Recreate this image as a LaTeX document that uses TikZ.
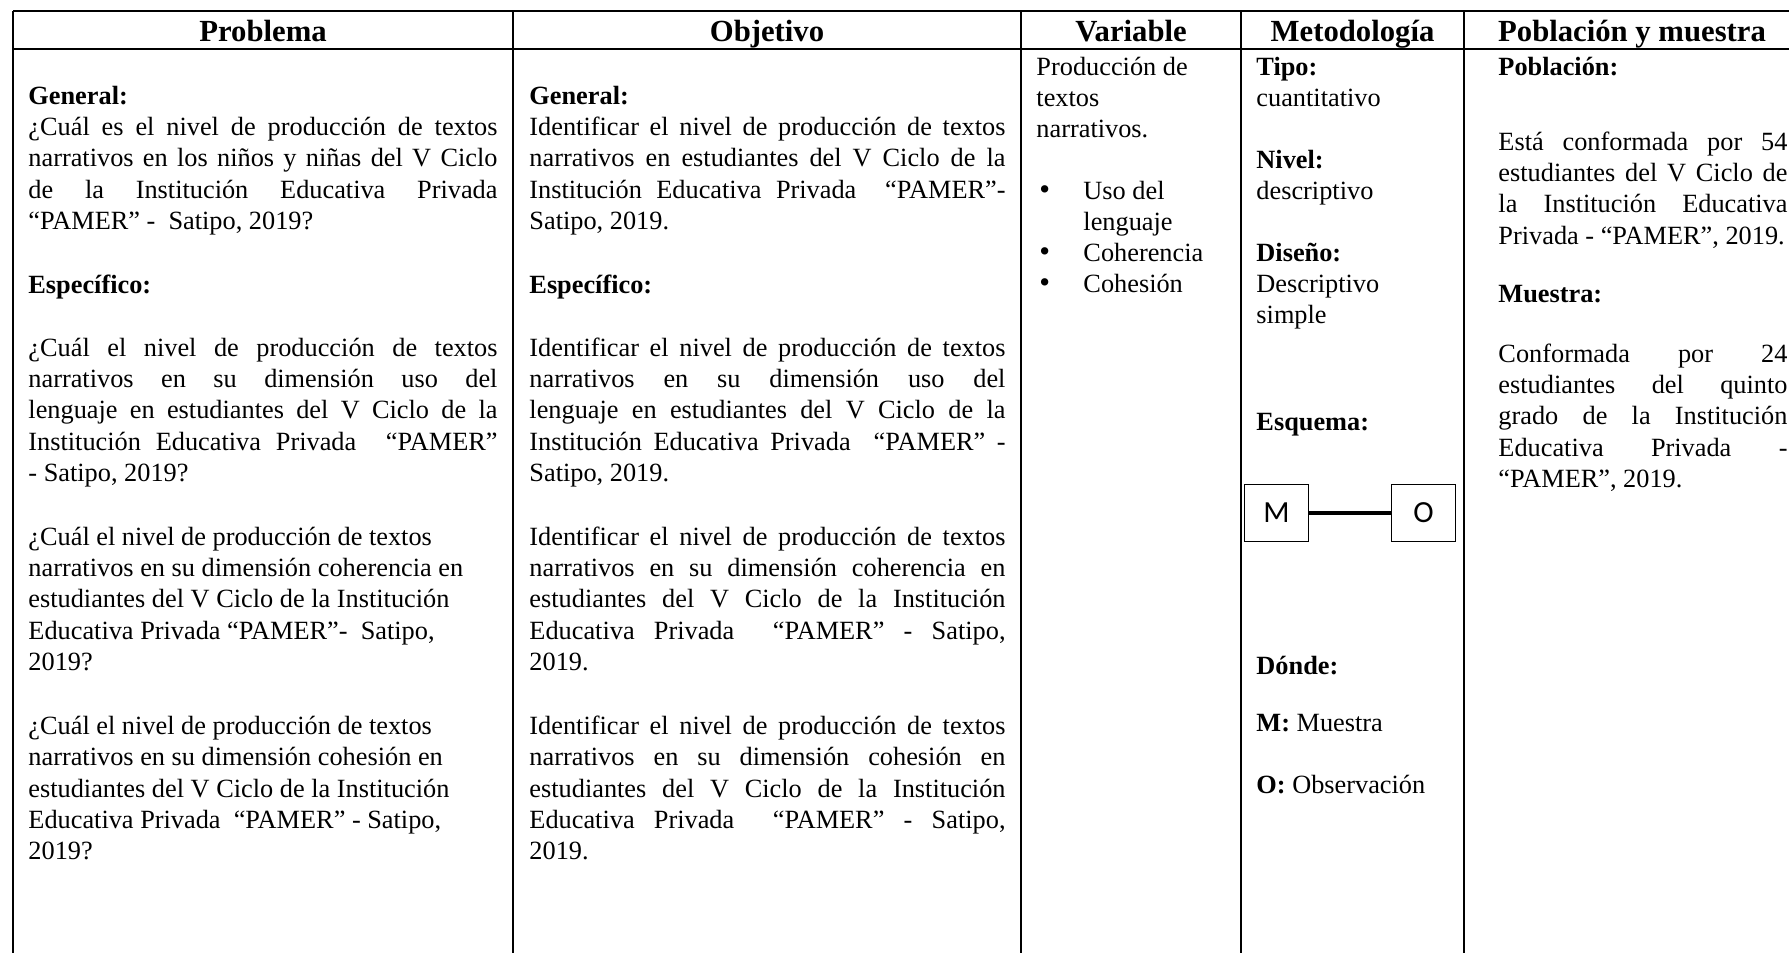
\documentclass[tikz,border=0pt]{standalone}
\usepackage{fontspec}
\setmainfont{Liberation Serif}
\newfontfamily\boxfont{Carlito}
\usepackage{tikz}

% justified lines of the three wide columns
\newcommand{\ja}[1]{\makebox[213.9pt][s]{\spaceskip=0pt\xspaceskip=0pt\relax #1}}
\newcommand{\jb}[1]{\makebox[217.1pt][s]{\spaceskip=0pt\xspaceskip=0pt\relax #1}}
\newcommand{\jc}[1]{\makebox[131.8pt][s]{\spaceskip=0pt\xspaceskip=0pt\relax #1}}

\begin{document}
\begin{tikzpicture}[x=0.456pt, y=-0.456pt,
	rule/.style={draw=black, line width=0.9pt},
	colhead/.style={black, anchor=base, inner sep=0pt, font=\bfseries\fontsize{14}{16}\selectfont},
	txt/.style={black, anchor=base west, inner sep=0pt, align=left, font=\fontsize{12}{14.36}\selectfont,
		execute at begin node={\spaceskip=0pt\xspaceskip=0pt\frenchspacing}},
	letterbox/.style={draw=black, thin, minimum width=29.5pt, minimum height=26pt, inner sep=0pt, font=\boxfont\fontsize{14}{16}\selectfont}]
	\useasboundingbox (0,0) rectangle (1789,953);
	% grid of the table
	\draw[rule] (13,11) -- (1789,11);
	\draw[rule] (13,49) -- (1789,49);
	\foreach \cx in {13,513,1021,1241,1464}
		\draw[rule] (\cx,11) -- (\cx,953);
	% header row
	\node[colhead] (hprob) at (263,41) {Problema};
	\node[colhead] (hobj) at (767,41) {Objetivo};
	\node[colhead] (hvar) at (1131,41) {Variable};
	\node[colhead] (hmet) at (1352.5,41) {Metodología};
	\node[colhead] (hpob) at (1632,41) {Población y muestra};
	% Problema
	\node[txt, text width=230pt] (probgen) at (28,104) {\textbf{General:}\\
		\ja{¿Cuál es el nivel de producción de textos}\\
		\ja{narrativos en los niños y niñas del V Ciclo}\\
		\ja{de la Institución Educativa Privada}\\
		“PAMER” -\ \ Satipo, 2019?};
	\node[txt] (probesp) at (28,293) {\textbf{Específico:}};
	\node[txt, text width=230pt] (probuno) at (28,356) {\ja{¿Cuál el nivel de producción de textos}\\
		\ja{narrativos en su dimensión uso del}\\
		\ja{lenguaje en estudiantes del V Ciclo de la}\\
		\ja{Institución Educativa Privada \ “PAMER”}\\
		- Satipo, 2019?};
	\node[txt, text width=230pt] (probdos) at (28,545) {¿Cuál el nivel de producción de textos\\
		narrativos en su dimensión coherencia en\\
		estudiantes del V Ciclo de la Institución\\
		Educativa Privada “PAMER”-\ \ Satipo,\\
		2019?};
	\node[txt, text width=230pt] (probtres) at (28,734) {¿Cuál el nivel de producción de textos\\
		narrativos en su dimensión cohesión en\\
		estudiantes del V Ciclo de la Institución\\
		Educativa Privada \ “PAMER” - Satipo,\\
		2019?};
	% Objetivo
	\node[txt, text width=230pt] (objgen) at (529,104) {\textbf{General:}\\
		\jb{Identificar el nivel de producción de textos}\\
		\jb{narrativos en estudiantes del V Ciclo de la}\\
		\jb{Institución Educativa Privada \ “PAMER”-}\\
		Satipo, 2019.};
	\node[txt] (objesp) at (529,293) {\textbf{Específico:}};
	\node[txt, text width=230pt] (objuno) at (529,356) {\jb{Identificar el nivel de producción de textos}\\
		\jb{narrativos en su dimensión uso del}\\
		\jb{lenguaje en estudiantes del V Ciclo de la}\\
		\jb{Institución Educativa Privada \ “PAMER” -}\\
		Satipo, 2019.};
	\node[txt, text width=230pt] (objdos) at (529,545) {\jb{Identificar el nivel de producción de textos}\\
		\jb{narrativos en su dimensión coherencia en}\\
		\jb{estudiantes del V Ciclo de la Institución}\\
		\jb{Educativa Privada \ “PAMER” - Satipo,}\\
		2019.};
	\node[txt, text width=230pt] (objtres) at (529,734) {\jb{Identificar el nivel de producción de textos}\\
		\jb{narrativos en su dimensión cohesión en}\\
		\jb{estudiantes del V Ciclo de la Institución}\\
		\jb{Educativa Privada \ “PAMER” - Satipo,}\\
		2019.};
	% Variable
	\node[txt, text width=95pt] (varname) at (1036,75) {Producción de\\textos\\narrativos.};
	\node[txt, font=\fontsize{14}{14}\selectfont] (bula) at (1039,199) {\textbullet};
	\node[txt, font=\fontsize{14}{14}\selectfont] (bulb) at (1039,261) {\textbullet};
	\node[txt, font=\fontsize{14}{14}\selectfont] (bulc) at (1039,292) {\textbullet};
	\node[txt, text width=75pt] (dima) at (1083,199) {Uso del\\lenguaje};
	\node[txt] (dimb) at (1083,261) {Coherencia};
	\node[txt] (dimc) at (1083,292) {Cohesión};
	% Metodologia
	\node[txt, text width=95pt] (tipo) at (1256,75) {\textbf{Tipo:}\\cuantitativo};
	\node[txt, text width=95pt] (nivel) at (1256,168) {\textbf{Nivel:}\\descriptivo};
	\node[txt, text width=95pt] (diseno) at (1256,261) {\textbf{Diseño:}\\Descriptivo\\simple};
	\node[txt] (esquema) at (1256,430) {\textbf{Esquema:}};
	\node[letterbox] (mbox) at (1276.5,513) {M};
	\node[letterbox] (obox) at (1423.5,513) {O};
	\draw[black, line width=1.4pt] (mbox) -- (obox);
	\node[txt] (donde) at (1256,674) {\textbf{Dónde:}};
	\node[txt] (mues) at (1256,731) {\textbf{M:} Muestra};
	\node[txt] (obs) at (1256,793) {\textbf{O:} Observación};
	% Poblacion y muestra
	\node[txt] (pobl) at (1498,75) {\textbf{Población:}};
	\node[txt, text width=145pt] (pobtxt) at (1498,150) {\jc{Está conformada por 54}\\
		\jc{estudiantes del V Ciclo de}\\
		\jc{la Institución Educativa}\\
		Privada - “PAMER”, 2019.};
	\node[txt] (muestra) at (1498,302) {\textbf{Muestra:}};
	\node[txt, text width=145pt] (muetxt) at (1498,362) {\jc{Conformada por 24}\\
		\jc{estudiantes del quinto}\\
		\jc{grado de la Institución}\\
		\jc{Educativa Privada -}\\
		“PAMER”, 2019.};
\end{tikzpicture}
\end{document}
